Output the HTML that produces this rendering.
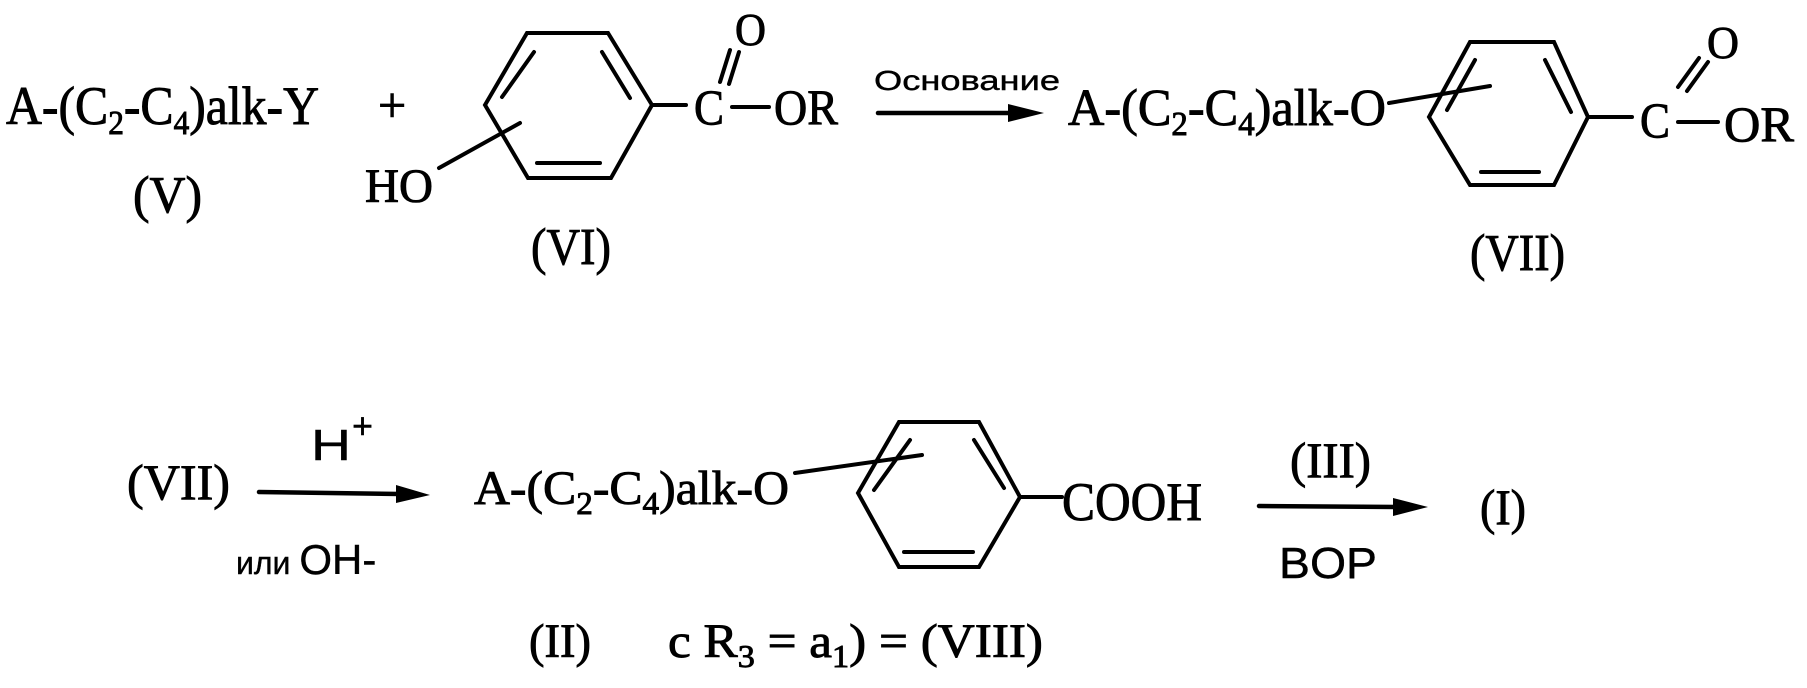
<!DOCTYPE html>
<html><head><meta charset="utf-8"><style>
html,body{margin:0;padding:0;background:#fff;}
svg{display:block;}
text{font-family:"Liberation Serif",serif;fill:#000;stroke:#000;stroke-width:0.9;}
.s{font-family:"Liberation Sans",sans-serif;stroke-width:0.4;}
</style></head><body>
<svg width="1807" height="688" viewBox="0 0 1807 688" xmlns="http://www.w3.org/2000/svg">
<g stroke="#000" stroke-width="4" fill="none" stroke-linecap="round">
<polygon points="527,33 608,33 652,105 611,178 528,178 485,105"/>
<line x1="534" y1="52" x2="502" y2="97"/>
<line x1="602" y1="52" x2="630" y2="98"/>
<line x1="537" y1="163" x2="600" y2="163"/>
<line x1="652" y1="105" x2="686" y2="105"/>
<line x1="520" y1="123" x2="439" y2="168"/>
<line x1="720" y1="82" x2="730" y2="50"/>
<line x1="729" y1="84" x2="739" y2="52"/>
<line x1="732" y1="107" x2="769" y2="107"/>
<line x1="878" y1="113" x2="1015" y2="113" stroke-width="4.5"/>
<polygon points="1470,42 1554,42 1588,117 1554,185 1470,185 1429,117"/>
<line x1="1475" y1="60" x2="1447" y2="110"/>
<line x1="1545" y1="60" x2="1571" y2="112"/>
<line x1="1481" y1="172" x2="1539" y2="172"/>
<line x1="1389" y1="103" x2="1490" y2="86"/>
<line x1="1588" y1="117" x2="1632" y2="117"/>
<line x1="1678" y1="87" x2="1699" y2="58"/>
<line x1="1687" y1="91" x2="1708" y2="62"/>
<line x1="1678" y1="122" x2="1718" y2="122"/>
<line x1="259" y1="492" x2="400" y2="494" stroke-width="4.5"/>
<polygon points="899,422 979,422 1020,497 979,567 899,567 858,493"/>
<line x1="910" y1="440" x2="874" y2="490"/>
<line x1="974" y1="440" x2="1004" y2="488"/>
<line x1="904" y1="552" x2="973" y2="552"/>
<line x1="795" y1="473" x2="922" y2="455"/>
<line x1="1020" y1="497" x2="1062" y2="497"/>
<line x1="1259" y1="506" x2="1400" y2="507" stroke-width="4.5"/>
</g>
<g fill="#000">
<polygon points="1044,113 1008,104 1008,122"/>
<polygon points="430,495 396,485 396,503"/>
<polygon points="1428,507 1393,498 1393,516"/>
</g>
<text x="6" y="124" font-size="54" textLength="313" lengthAdjust="spacingAndGlyphs">A-(C<tspan font-size="34" dy="10">2</tspan><tspan dy="-10">-C</tspan><tspan font-size="34" dy="10">4</tspan><tspan dy="-10">)alk-Y</tspan></text>
<text x="378" y="122" font-size="50">+</text>
<text x="133" y="212" font-size="52" textLength="69" lengthAdjust="spacingAndGlyphs">(V)</text>
<text x="365" y="202" font-size="48" textLength="68" lengthAdjust="spacingAndGlyphs">HO</text>
<text x="531" y="264" font-size="52" textLength="80" lengthAdjust="spacingAndGlyphs">(VI)</text>
<text x="694" y="124" font-size="50" textLength="30" lengthAdjust="spacingAndGlyphs">C</text>
<text x="735" y="45" font-size="46" textLength="31" lengthAdjust="spacingAndGlyphs">O</text>
<text x="774" y="124" font-size="50" textLength="64" lengthAdjust="spacingAndGlyphs">OR</text>
<text class="s" x="874" y="90" font-size="28" textLength="186" lengthAdjust="spacingAndGlyphs">Основание</text>
<text x="1068" y="125" font-size="52" textLength="318" lengthAdjust="spacingAndGlyphs">A-(C<tspan font-size="34" dy="10">2</tspan><tspan dy="-10">-C</tspan><tspan font-size="34" dy="10">4</tspan><tspan dy="-10">)alk-O</tspan></text>
<text x="1640" y="137" font-size="50" textLength="30" lengthAdjust="spacingAndGlyphs">C</text>
<text x="1707" y="58" font-size="46" textLength="32" lengthAdjust="spacingAndGlyphs">O</text>
<text x="1724" y="141" font-size="50" textLength="70" lengthAdjust="spacingAndGlyphs">OR</text>
<text x="1470" y="270" font-size="52" textLength="95" lengthAdjust="spacingAndGlyphs">(VII)</text>
<text x="127" y="499" font-size="50" textLength="103" lengthAdjust="spacingAndGlyphs">(VII)</text>
<text class="s" x="311" y="460" font-size="44" textLength="40" lengthAdjust="spacingAndGlyphs">H</text>
<text class="s" x="352" y="438" font-size="36">+</text>
<text class="s" x="236" y="574" font-size="32"><tspan font-size="32">или</tspan> <tspan font-size="42">OH-</tspan></text>
<text x="474" y="504" font-size="48" textLength="315" lengthAdjust="spacingAndGlyphs">A-(C<tspan font-size="32" dy="10">2</tspan><tspan dy="-10">-C</tspan><tspan font-size="32" dy="10">4</tspan><tspan dy="-10">)alk-O</tspan></text>
<text x="1062" y="520" font-size="54" textLength="140" lengthAdjust="spacingAndGlyphs">COOH</text>
<text x="1290" y="477" font-size="50" textLength="81" lengthAdjust="spacingAndGlyphs">(III)</text>
<text class="s" x="1279" y="578" font-size="44" textLength="98" lengthAdjust="spacingAndGlyphs">BOP</text>
<text x="1480" y="524" font-size="50" textLength="46" lengthAdjust="spacingAndGlyphs">(I)</text>
<text x="529" y="657" font-size="48" textLength="62" lengthAdjust="spacingAndGlyphs">(II)</text>
<text x="668" y="657" font-size="48" textLength="375" lengthAdjust="spacingAndGlyphs">c R<tspan font-size="32" dy="10">3</tspan><tspan dy="-10"> = a</tspan><tspan font-size="32" dy="10">1</tspan><tspan dy="-10">) = (VIII)</tspan></text>
</svg>
</body></html>
